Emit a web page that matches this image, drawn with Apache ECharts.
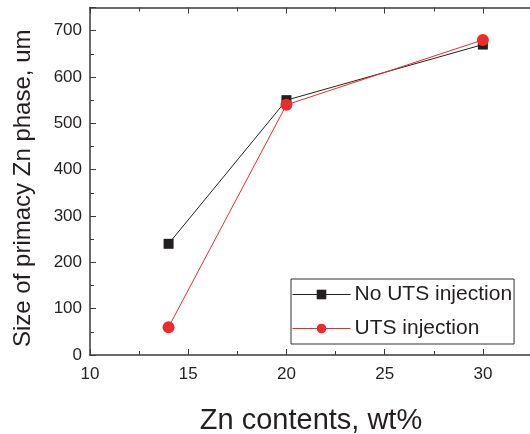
<!DOCTYPE html>
<html>
<head>
<meta charset="utf-8">
<script src="https://cdn.jsdelivr.net/npm/echarts@6/dist/echarts.min.js"></script>
<style>html,body{margin:0;padding:0;background:#fff}#c{width:530px;height:434px}</style>
</head>
<body>
<div id="c"></div>
<script>
const znContents = [14, 20, 30];
const noUTS = [240, 550, 670];
const withUTS = [60, 540, 680];
const seriesNames = ['No UTS injection', 'UTS injection'];
const xTicks = [10, 15, 20, 25, 30];
const yTicks = [0, 100, 200, 300, 400, 500, 600, 700];

const chart = echarts.init(document.getElementById('c'));
const font = 'Liberation Sans, Arial, sans-serif';
const axisCol = '#3a3a3a';
const txt = '#231f20';
chart.setOption({
  animation: false,
  grid: { left: 90, top: 7.5, bottom: 79, right: -2, containLabel: false, outerBoundsMode: 'none' },
  legend: {
    left: 291, top: 279,
    orient: 'vertical',
    itemWidth: 58, itemHeight: 12, itemGap: 13,
    padding: [5, 2, 5, 1],
    borderColor: '#333', borderWidth: 1,
    backgroundColor: '#fff',
    lineStyle: { width: 1 },
    textStyle: { fontFamily: font, fontSize: 21, color: txt, padding: [0,0,0,-1] },
    data: seriesNames
  },
  xAxis: [{
    type: 'value', min: 10, max: 32.5, interval: 5,
    name: 'Zn contents, wt%', nameLocation: 'middle', nameGap: 51,
    nameTextStyle: { fontFamily: font, fontSize: 29, color: txt },
    axisLine: { lineStyle: { color: axisCol, width: 1.5 } },
    axisTick: { inside: true, length: 6, lineStyle: { color: axisCol } },
    minorTick: { show: true, splitNumber: 2, length: 4, lineStyle: { color: axisCol } },
    axisLabel: { fontFamily: font, fontSize: 17, color: txt, margin: 11, showMaxLabel: false,
      formatter: v => xTicks.includes(v) ? String(v) : '' },
    splitLine: { show: false }
  }, {
    type: 'value', position: 'top', min: 10, max: 32.5, interval: 5,
    axisLine: { show: true, lineStyle: { color: axisCol, width: 1.5 } },
    axisTick: { inside: true, length: 6, lineStyle: { color: axisCol } },
    minorTick: { show: true, splitNumber: 2, length: 4, lineStyle: { color: axisCol } },
    axisLabel: { show: false }, splitLine: { show: false }
  }],
  yAxis: [{
    type: 'value', min: 0, max: 750, interval: 100,
    name: 'Size of primacy Zn phase, um', nameLocation: 'middle', nameGap: 55,
    nameTextStyle: { fontFamily: font, fontSize: 24, color: txt, padding: [0, 14, 0, 0] },
    axisLine: { show: true, lineStyle: { color: axisCol, width: 1.5 } },
    axisTick: { inside: true, length: 6, lineStyle: { color: axisCol } },
    minorTick: { show: true, splitNumber: 2, length: 4, lineStyle: { color: axisCol } },
    axisLabel: { fontFamily: font, fontSize: 17, color: txt, margin: 8, showMaxLabel: false,
      formatter: v => yTicks.includes(v) ? String(v) : '' },
    splitLine: { show: false }
  }],
  series: [{
    name: seriesNames[0], type: 'line',
    data: znContents.map((x, i) => [x, noUTS[i]]),
    symbol: 'rect', symbolSize: 10,
    itemStyle: { color: '#231f20' },
    lineStyle: { color: '#231f20', width: 1 },
    z: 2
  }, {
    name: seriesNames[1], type: 'line',
    data: znContents.map((x, i) => [x, withUTS[i]]),
    symbol: 'circle', symbolSize: 12,
    itemStyle: { color: '#ee2a2a' },
    lineStyle: { color: '#ee2a2a', width: 1 },
    z: 3
  }]
});
</script>
</body>
</html>
